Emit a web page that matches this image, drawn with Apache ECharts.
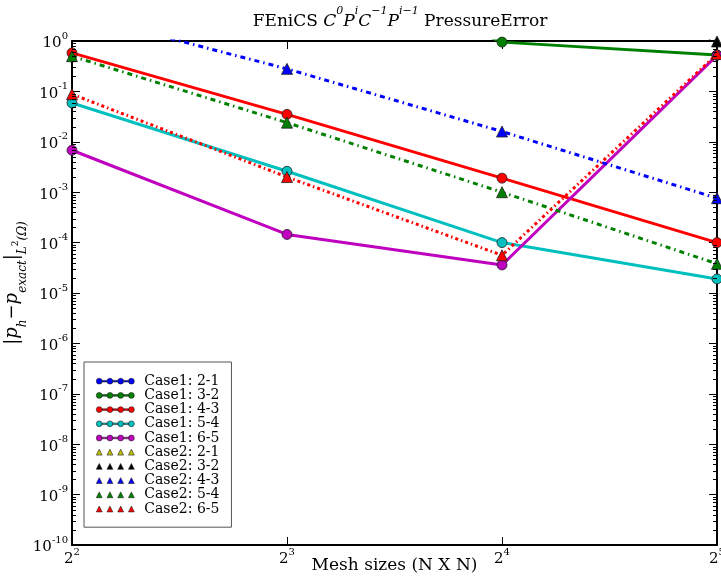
<!DOCTYPE html>
<html><head><meta charset="utf-8">
<script src="https://cdn.jsdelivr.net/npm/echarts@6/dist/echarts.min.js"></script>
<style>html,body{margin:0;padding:0;background:#fff}#c{width:721px;height:577px}</style>
</head><body><div id="c"></div>
<script>
// Mesh sizes N (N x N meshes)
const meshSizes = [4, 8, 16, 32];

// Pressure L2 errors, Case 1 (continuous/discontinuous pairs)
const case1_21 = [900, 200, 40, 8];
const case1_32 = [300, 60, 0.95, 0.53];
const case1_43 = [0.58, 0.035, 0.0019, 0.0001];
const case1_54 = [0.059, 0.0026, 0.0001, 0.000019];
const case1_65 = [0.0068, 0.000145, 0.000036, 0.52];

// Pressure L2 errors, Case 2
const case2_21 = [1500, 300, 70, 12];
const case2_32 = [2000, 400, 60, 0.98];
const case2_43 = [3.6, 0.28, 0.016, 0.00076];
const case2_54 = [0.5, 0.024, 0.001, 0.000038];
const case2_65 = [0.088, 0.002, 0.000056, 0.55];

// minor tick mantissas within each decade
const minorMantissas = [2, 3, 4, 5, 6, 7, 8, 9];

const seriesNames = ['Case1: 2-1','Case1: 3-2','Case1: 4-3','Case1: 5-4','Case1: 6-5',
                     'Case2: 2-1','Case2: 3-2','Case2: 4-3','Case2: 5-4','Case2: 6-5'];
const seriesValues = [case1_21, case1_32, case1_43, case1_54, case1_65,
                      case2_21, case2_32, case2_43, case2_54, case2_65];
const seriesColors = ['#0000ff','#008000','#ff0000','#00bfbf','#bf00bf',
                      '#bfbf00','#000000','#0000ff','#008000','#ff0000'];
const case2Dash = [[5,4,1.5,4],[5,4,1.5,4],[5,4,1.5,4],[5,4,1.5,4],[3,3,1.5,3]];

const SERIF = '"DejaVu Serif", "Liberation Serif", serif';

// legend glyphs: line with four circles, or four triangles
const circleIcon = 'path://' +
  [4, 15, 26, 37].map(c => `M${c-3},4a3,3 0 1,1 6,0a3,3 0 1,1 -6,0Z`).join('') +
  [7, 18, 29].map(x => `M${x},3.2h5v1.6h-5Z`).join('');
const triIcon = 'path://' +
  [4, 15, 26, 37].map(c => `M${c-3},7L${c},1L${c+3},7Z`).join('');

function pow10Label(v) {
  const e = Math.round(Math.log10(v));
  return '{b|10}{s|' + String(e) + '}';
}
function pow2Label(v) {
  const e = Math.round(Math.log2(v));
  return '{b|2}{s|' + e + '}';
}

const supRich = {
  b: { fontFamily: SERIF, fontSize: 15, color: '#000', lineHeight: 20, verticalAlign: 'bottom' },
  s: { fontFamily: SERIF, fontSize: 10, color: '#000', lineHeight: 20, verticalAlign: 'top' }
};

const series = seriesNames.map((name, i) => {
  const isCase1 = i < 5;
  return {
    name,
    type: 'line',
    data: meshSizes.map((m, k) => [m, seriesValues[i][k]]),
    symbol: isCase1 ? 'circle' : 'triangle',
    symbolSize: isCase1 ? 10 : 11,
    clip: true,
    color: seriesColors[i],
    lineStyle: {
      width: 3,
      color: seriesColors[i],
      type: isCase1 ? 'solid' : case2Dash[i - 5]
    },
    itemStyle: { color: seriesColors[i], borderColor: '#222', borderWidth: 0.8 },
    emphasis: { disabled: true },
    z: 2 + i
  };
});

const axisFrame = { show: true, onZero: false, lineStyle: { color: '#000', width: 2 } };
const majorTick = { show: true, inside: true, length: 8, lineStyle: { color: '#000', width: 1 } };

const chart = echarts.init(document.getElementById('c'), null, { renderer: 'canvas' });
chart.setOption({
  animation: false,
  backgroundColor: '#fff',
  title: {
    text: '{r|FEniCS }{m|C}{p|0}{m|P}{p|i}{m|C}{p|−1}{m|P}{p|i−1}{r| PressureError}',
    left: 395,
    textAlign: 'center',
    top: 1,
    textStyle: {
      fontWeight: 'normal',
      rich: {
        r: { fontFamily: SERIF, fontWeight: 'normal', fontSize: 17, color: '#000', lineHeight: 24, verticalAlign: 'bottom' },
        m: { fontFamily: SERIF, fontWeight: 'normal', fontStyle: 'italic', fontSize: 17, color: '#000', lineHeight: 24, verticalAlign: 'bottom' },
        p: { fontFamily: SERIF, fontWeight: 'normal', fontStyle: 'italic', fontSize: 11, color: '#000', lineHeight: 24, verticalAlign: 'top' }
      }
    }
  },
  grid: { left: 72, right: 4, top: 41, bottom: 32, containLabel: false, outerBoundsMode: 'none' },
  legend: {
    orient: 'vertical',
    left: 84,
    top: 362,
    padding: [12, 12, 11, 12],
    borderColor: '#555',
    borderWidth: 1,
    itemWidth: 38,
    itemHeight: 8,
    itemGap: -0.2,
    selectedMode: false,
    textStyle: { fontFamily: SERIF, fontSize: 14, color: '#000', lineHeight: 14.4, padding: [0, 0, 0, 5] },
    data: seriesNames.map((n, i) => ({
      name: n,
      icon: i < 5 ? circleIcon : triIcon,
      itemStyle: { color: seriesColors[i], borderColor: '#222', borderWidth: 0.6 }
    }))
  },
  xAxis: [{
    type: 'log',
    logBase: 2,
    min: 4,
    max: 32,
    name: 'Mesh sizes (N X N)',
    nameLocation: 'middle',
    nameGap: 12,
    nameMoveOverlap: false,
    nameTextStyle: { fontFamily: SERIF, fontSize: 17, color: '#000', verticalAlign: 'top' },
    axisLine: axisFrame,
    axisTick: majorTick,
    axisLabel: { margin: 2, formatter: pow2Label, rich: supRich, showMaxLabel: true, showMinLabel: true, hideOverlap: false },
    splitLine: { show: false }
  }, {
    type: 'log',
    logBase: 2,
    min: 4,
    max: 32,
    position: 'top',
    axisLine: axisFrame,
    axisTick: majorTick,
    axisLabel: { show: false },
    splitLine: { show: false }
  }],
  yAxis: [{
    type: 'log',
    logBase: 10,
    min: 1e-10,
    max: 1,
    interval: 1,
    name: '{a||p}{u|h}{a|−p}{u|exact}{a||}{u|L}{v|2}{u|(Ω)}',
    nameLocation: 'middle',
    nameGap: 43,
    nameMoveOverlap: false,
    nameRotate: 90,
    nameTextStyle: {
      padding: [0, 0, 0, 20],
      rich: {
        a: { fontFamily: SERIF, fontStyle: 'italic', fontSize: 18, color: '#000', lineHeight: 26, verticalAlign: 'top' },
        u: { fontFamily: SERIF, fontStyle: 'italic', fontSize: 12, color: '#000', lineHeight: 26, verticalAlign: 'bottom' },
        v: { fontFamily: SERIF, fontSize: 9, color: '#000', lineHeight: 26, verticalAlign: 'middle' }
      }
    },
    axisLine: axisFrame,
    axisTick: majorTick,
    axisLabel: { margin: 4, formatter: pow10Label, rich: supRich },
    splitLine: { show: false }
  }, {
    type: 'log',
    logBase: 10,
    min: 1e-10,
    max: 1,
    interval: 1,
    position: 'right',
    axisLine: axisFrame,
    axisTick: majorTick,
    axisLabel: { show: false },
    splitLine: { show: false }
  }],
  series
});

// log-spaced minor ticks (2..9 x 10^k) on the left and right frame edges
(function drawMinorTicks() {
  const left = chart.convertToPixel({ xAxisIndex: 0 }, 4);
  const right = chart.convertToPixel({ xAxisIndex: 0 }, 32);
  const elements = [];
  for (let k = -10; k < 0; k++) {
    minorMantissas.forEach(m => {
      const y = Math.round(chart.convertToPixel({ yAxisIndex: 0 }, m * Math.pow(10, k))) + 0.5;
      elements.push({ type: 'line', silent: true, z: 50,
        shape: { x1: left, y1: y, x2: left + 4, y2: y }, style: { stroke: '#000', lineWidth: 1 } });
      elements.push({ type: 'line', silent: true, z: 50,
        shape: { x1: right - 4, y1: y, x2: right, y2: y }, style: { stroke: '#000', lineWidth: 1 } });
    });
  }
  chart.setOption({ graphic: { elements } });
})();
</script>
</body></html>
